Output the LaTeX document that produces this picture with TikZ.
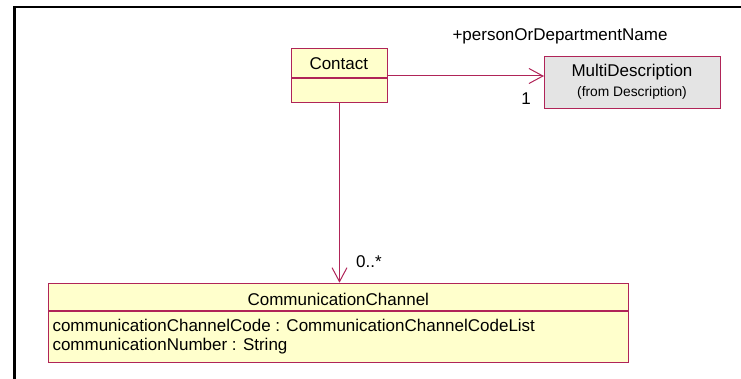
\documentclass[tikz,border=0pt]{standalone}
\usepackage{fontspec}
\setmainfont{Liberation Sans}
\usetikzlibrary{arrows.meta}
\definecolor{umlborder}{RGB}{176,36,88}
\definecolor{umlyellow}{RGB}{255,255,204}
\definecolor{umlgray}{RGB}{228,228,228}
\tikzset{
  classbox/.style={draw=umlborder, line width=1.3pt, fill=umlyellow, rectangle, inner sep=0pt, anchor=north west},
  grayclass/.style={classbox, fill=umlgray},
  divider/.style={draw=umlborder, line width=1.3pt},
  assoc/.style={draw=umlborder, line width=1pt, -{Straight Barb[length=14pt,width=15pt,line width=1pt]}},
  lbl/.style={font=\fontsize{17}{20}\selectfont, inner sep=0pt},
  smalllbl/.style={font=\fontsize{13.8}{16}\selectfont, inner sep=0pt},
  frameline/.style={draw=black, line width=2.2pt}
}
\begin{document}
\begin{tikzpicture}[x=1pt,y=-1pt]
\useasboundingbox (0,0) rectangle (741,379);
% frame
\coordinate (ftr) at (741,7);
\coordinate (ftl) at (14.5,7);
\coordinate (fbl) at (14.5,379);
\draw[frameline] (ftr) -- (ftl) -- (fbl);
% Contact
\node[classbox, minimum width=95.7pt, minimum height=54pt] (contact) at (291,48) {};
\draw[divider] (291,78) -- (386.7,78);
\node[lbl] (contactname) at (338.8,64) {Contact};
% MultiDescription
\node[grayclass, minimum width=176pt, minimum height=52.3pt] (multi) at (544,55.7) {};
\node[lbl] (multiname) at (632,72) {MultiDescription};
\node[smalllbl] (multifrom) at (632,93) {(from Description)};
% CommunicationChannel
\node[classbox, minimum width=580pt, minimum height=79pt] (chan) at (48,282.7) {};
\draw[divider] (48,311) -- (628,311);
\node[lbl] (channame) at (338.3,299) {CommunicationChannel};
\node[lbl, anchor=west] (attr1) at (52.3,325.5) {communicationChannelCode : CommunicationChannelCodeList};
\node[lbl, anchor=west] (attr2) at (52.3,346.5) {communicationNumber : String};
% associations
\coordinate (cstart) at (386.7,76);
\draw[assoc] (cstart) -- (cstart -| multi.west);
\draw[assoc] (contact.south) -- (contact.south |- chan.north);
% labels
\node[lbl] (rolename) at (560,36.7) {+personOrDepartmentName};
\node[lbl] (mult1) at (526,98.5) {1};
\node[lbl] (mult2) at (369,262) {0..*};
\end{tikzpicture}
\end{document}
